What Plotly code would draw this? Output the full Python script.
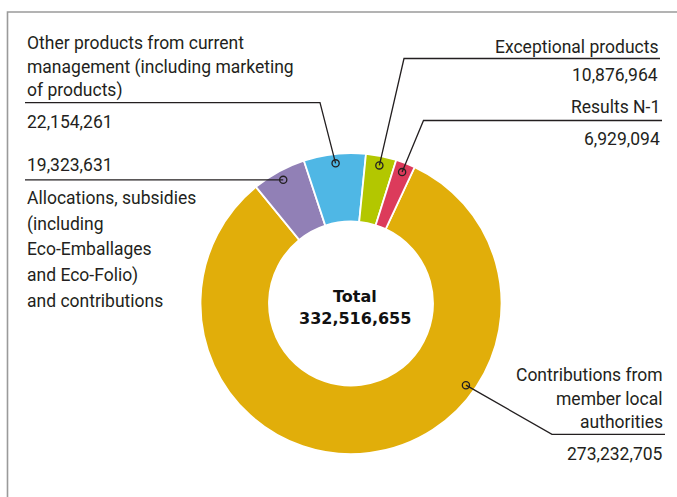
import math
import plotly.graph_objects as go

# ---------------- data ----------------
categories = [
    "Contributions from member local authorities",
    "Allocations, subsidies (including Eco-Emballages and Eco-Folio) and contributions",
    "Other products from current management (including marketing of products)",
    "Exceptional products",
    "Results N-1",
]
values = [273232705, 19323631, 22154261, 10876964, 6929094]
value_labels = ["273,232,705", "19,323,631", "22,154,261", "10,876,964", "6,929,094"]
label_lines = [
    ["Contributions from", "member local", "authorities"],
    ["Allocations, subsidies", "(including", "Eco-Emballages", "and Eco-Folio)", "and contributions"],
    ["Other products from current", "management (including marketing", "of products)"],
    ["Exceptional products"],
    ["Results N-1"],
]
total_label = "332,516,655"
colors = ["#E1AE0A", "#9180B6", "#4FB7E5", "#B3C700", "#DC3B5B"]

# ---------------- geometry / style ----------------
W, H = 677, 497
CX, CY, R = 351, 303.5, 150.5
HOLE = 0.545
ROT = 25
ANCHOR_R = 141
TEXT_FONT = "Roboto, sans-serif"
FS = 17.5
INK = "#231f20"


def px(x):
    return x / W


def py(y):
    return 1 - y / H


fig = go.Figure()
fig.add_trace(go.Pie(
    labels=categories,
    values=values,
    sort=False,
    direction="clockwise",
    rotation=ROT,
    hole=HOLE,
    marker=dict(colors=colors, line=dict(color="white", width=1.8)),
    textinfo="none",
    hoverinfo="skip",
    showlegend=False,
    domain=dict(x=[px(CX - R), px(CX + R)], y=[py(CY + R), py(CY - R)]),
))

# anchor angles (degrees clockwise from 12 o'clock), mid-slice unless overridden
total = sum(values)
anchor_override = {0: 125.4}
anchors = []
cum = 0
for i, v in enumerate(values):
    a0 = ROT + 360 * cum / total
    a1 = ROT + 360 * (cum + v) / total
    cum += v
    ang = anchor_override.get(i, (a0 + a1) / 2)
    rad = math.radians(ang)
    anchors.append((CX + ANCHOR_R * math.sin(rad), CY - ANCHOR_R * math.cos(rad)))

# leader layout: elbow point (None = straight horizontal) and end x of horizontal rule
elbows = [(552, 434.3), None, (320, 102.7), (404, 58.5), (423.5, 120.5)]
rule_end = [665, 25, 25, 660, 662]

shapes = []
for i, (ax, ay) in enumerate(anchors):
    e = elbows[i]
    if e is None:
        ey = ay
        path = f"M {px(ax)},{py(ay)} L {px(rule_end[i])},{py(ey)}"
    else:
        ex, ey = e
        path = (f"M {px(ax)},{py(ay)} L {px(ex)},{py(ey)} "
                f"L {px(rule_end[i])},{py(ey)}")
    shapes.append(dict(type="path", path=path, xref="paper", yref="paper",
                       line=dict(color=INK, width=1.3)))
    rr = 3.6
    shapes.append(dict(type="circle", xref="paper", yref="paper",
                       x0=px(ax - rr), x1=px(ax + rr), y0=py(ay + rr), y1=py(ay - rr),
                       line=dict(color=INK, width=1.3), fillcolor="rgba(0,0,0,0)"))

# frame
shapes.append(dict(type="path", xref="paper", yref="paper",
                   path=f"M {px(7.5)},{py(520)} L {px(7.5)},{py(12)} L {px(700)},{py(12)}",
                   line=dict(color="#9a9a9a", width=1.6)))

# text positions (y centre of each line)
label_y = [[375, 399, 422], [198, 224, 249, 275, 300.5], [43, 67, 91], [46.5], [107]]
number_y = [454, 165, 122, 75, 139]
text_x = [665, 25, 25, 660, 662]
text_anchor = ["right", "left", "left", "right", "right"]

annotations = []
for i in range(len(values)):
    for line, yy in zip(label_lines[i], label_y[i]):
        annotations.append(dict(x=px(text_x[i]), y=py(yy), xref="paper", yref="paper",
                                text=line, showarrow=False, xanchor=text_anchor[i],
                                yanchor="middle", font=dict(family=TEXT_FONT, size=FS, color=INK)))
    annotations.append(dict(x=px(text_x[i]), y=py(number_y[i]), xref="paper", yref="paper",
                            text=value_labels[i], showarrow=False, xanchor=text_anchor[i],
                            yanchor="middle", font=dict(family=TEXT_FONT, size=FS, color=INK)))

annotations.append(dict(x=px(355), y=py(296), xref="paper", yref="paper", text="<b>Total</b>",
                        showarrow=False, xanchor="center", yanchor="middle",
                        font=dict(family="DejaVu Sans, sans-serif", size=16, color="#111")))
annotations.append(dict(x=px(355), y=py(318), xref="paper", yref="paper",
                        text=f"<b>{total_label}</b>",
                        showarrow=False, xanchor="center", yanchor="middle",
                        font=dict(family="DejaVu Sans, sans-serif", size=16, color="#111")))

fig.update_layout(
    width=W, height=H,
    margin=dict(l=0, r=0, t=0, b=0),
    paper_bgcolor="white", plot_bgcolor="white",
    shapes=shapes, annotations=annotations,
    showlegend=False,
)

fig.write_html("out.html", config={"displayModeBar": False},
               post_script="document.body.style.margin='0';document.body.style.overflow='hidden';")
